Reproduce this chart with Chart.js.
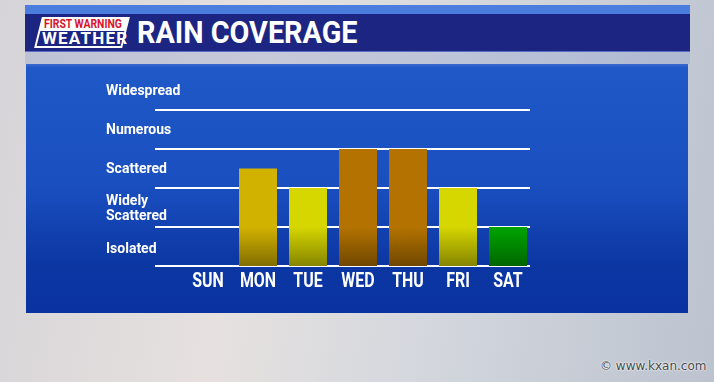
<!DOCTYPE html>
<html>
<head>
<meta charset="utf-8">
<script src="https://cdn.jsdelivr.net/npm/chart.js@4"></script>
<style>
  html, body { margin: 0; padding: 0; }
  body {
    width: 714px; height: 382px; position: relative; overflow: hidden;
    background: linear-gradient(100deg, #d6d4d8 0%, #e6e1df 35%, #d5d8de 60%, #bcc3cf 100%);
    font-family: Roboto, sans-serif;
  }
  .strip { position: absolute; left: 25px; top: 5px; width: 665px; height: 10px; background: #4a7ddd; }
  .band { position: absolute; left: 25px; top: 14px; width: 665px; height: 37px; background: #1c2682; border-bottom: 1px solid #5a6cc4; }
  .gap { position: absolute; left: 25px; top: 52px; width: 665px; height: 12px; background: rgba(130,150,205,0.3); }
  .title { position: absolute; left: 137px; top: 16px; color: #fff; font-weight: bold; font-size: 32px; line-height: 32px;
    transform: scaleX(0.9); transform-origin: 0 0; white-space: nowrap; }
  .logo { position: absolute; left: 38px; top: 17px; width: 88px; height: 31px; transform: skewX(-14deg); background: #fff; }
  .logo .bot { position: absolute; left: 2px; right: 2px; top: 14px; bottom: 2px; background: #1c2682; }
  .logo-t1 { position: absolute; left: 44px; top: 17px; color: #d8152a; font-weight: bold; font-size: 13px; line-height: 13px;
    transform: scaleX(0.8); transform-origin: 0 0; white-space: nowrap; }
  .logo-t2 { position: absolute; left: 42px; top: 30px; color: #fff; font-weight: bold; font-size: 17px; line-height: 17px;
    letter-spacing: 1.2px; white-space: nowrap; }
  .panel { position: absolute; left: 26px; top: 64px; width: 662px; height: 249px;
    background: linear-gradient(180deg, #3a6ad2 0px, #1f58c7 4px, #1a4fc0 120px, #0c37a3 200px, #0a33a0 249px); }
  .wm { position: absolute; left: 600px; top: 359px; font-family: "DejaVu Sans", sans-serif; font-size: 12px; color: #4a4a4a;
    text-shadow: 0 0 2px #fff, 0 0 2px #fff; white-space: nowrap; }
  canvas { position: absolute; left: 0; top: 0; }
</style>
</head>
<body>
<div class="strip"></div>
<div class="band"></div>
<div class="gap"></div>
<div class="logo"><div class="bot"></div></div>
<div class="logo-t1">FIRST WARNING</div>
<div class="logo-t2">WEATHER</div>
<div class="title">RAIN COVERAGE</div>
<div class="panel"></div>
<div class="wm">© www.kxan.com</div>
<canvas id="rainChart" width="714" height="382"></canvas>
<script>
// Rain coverage by day (0 = none, 1 = isolated ... 5 = widespread)
const days = ['SUN', 'MON', 'TUE', 'WED', 'THU', 'FRI', 'SAT'];
const coverage = [0, 2.5, 2, 3, 3, 2, 1];
const coverageLevels = ['Isolated', ['Widely', 'Scattered'], 'Scattered', 'Numerous', 'Widespread'];
const barColors = ['#d2b200', '#d2b200', '#d6d600', '#b47300', '#b47300', '#d6d600', '#00a400'];

function shade(hex, f) {
    const n = parseInt(hex.slice(1), 16);
    const r = Math.round(((n >> 16) & 255) * f);
    const g = Math.round(((n >> 8) & 255) * f);
    const b = Math.round((n & 255) * f);
    return 'rgb(' + r + ',' + g + ',' + b + ')';
}

// grid lines behind the bars, level names on the left, condensed day names
const levelsPlugin = {
    id: 'levels',
    beforeDatasetsDraw(chart) {
        const ctx = chart.ctx;
        const y = chart.scales.y;
        ctx.save();
        ctx.strokeStyle = '#ffffff';
        ctx.lineWidth = 2;
        for (let v = 0; v < coverageLevels.length; v++) {
            const py = Math.round(y.getPixelForValue(v));
            ctx.beginPath();
            ctx.moveTo(155, py);
            ctx.lineTo(530, py);
            ctx.stroke();
        }
        ctx.restore();
    },
    afterDraw(chart) {
        const ctx = chart.ctx;
        const x = chart.scales.x;
        const y = chart.scales.y;
        ctx.save();
        ctx.fillStyle = '#ffffff';
        ctx.font = 'bold 14px Roboto, sans-serif';
        ctx.textBaseline = 'middle';
        ctx.textAlign = 'left';
        coverageLevels.forEach((label, i) => {
            // labels sit a touch lower toward the bottom band
            const py = y.getPixelForValue(i + 0.5) + 1 + (i === 0 ? 2 : 0);
            if (Array.isArray(label)) {
                ctx.fillText(label[0], 106, py - 7);
                ctx.fillText(label[1], 106, py + 8);
            } else {
                ctx.fillText(label, 106, py);
            }
        });
        // day names, squeezed like the broadcast font
        ctx.font = 'bold 21px Roboto, sans-serif';
        ctx.textAlign = 'center';
        ctx.textBaseline = 'alphabetic';
        chart.data.labels.forEach((d, i) => {
            const px = x.getPixelForValue(i);
            ctx.save();
            ctx.translate(px, 287);
            ctx.scale(0.76, 1);
            ctx.fillText(d, 0, 0);
            ctx.restore();
        });
        ctx.restore();
    }
};

const ctx = document.getElementById('rainChart');
new Chart(ctx, {
    type: 'bar',
    data: {
        labels: days,
        datasets: [{
            data: coverage,
            backgroundColor: (c) => {
                const area = c.chart.chartArea;
                const col = barColors[c.dataIndex];
                if (!area) return col;
                const g = c.chart.ctx.createLinearGradient(0, area.top, 0, area.bottom);
                g.addColorStop(0, col);
                g.addColorStop(0.8, col);
                g.addColorStop(1, shade(col, 0.62));
                return g;
            },
            borderWidth: 0,
            barPercentage: 0.76,
            categoryPercentage: 1
        }]
    },
    options: {
        responsive: false,
        animation: false,
        layout: { padding: { left: 183, right: 181, top: 71, bottom: 116 } },
        scales: {
            x: {
                grid: { display: false, drawTicks: false },
                border: { display: false },
                ticks: { display: false }
            },
            y: {
                display: false,
                min: 0,
                max: 5
            }
        },
        plugins: {
            legend: { display: false },
            tooltip: { enabled: false }
        }
    },
    plugins: [levelsPlugin]
});
</script>
</body>
</html>
